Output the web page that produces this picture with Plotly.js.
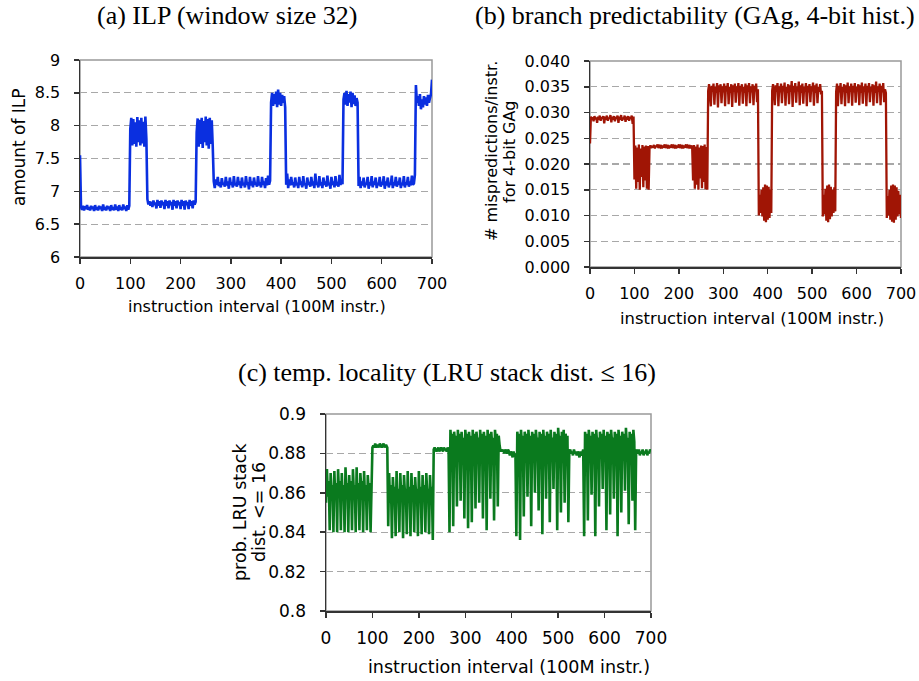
<!DOCTYPE html>
<html>
<head>
<meta charset="utf-8">
<script src="https://cdn.plot.ly/plotly-3.0.1.min.js"></script>
<style>html,body{margin:0;padding:0;background:#fff;}#chart{width:919px;height:681px;}</style>
</head>
<body>
<div id="chart"></div>
<script>
// instruction interval positions (every 2nd interval, 0..700)
const xStep = 2;
const xCount = 351;

// (a) ILP (window size 32)
const ilp = [
7.55,6.76,6.72,6.78,6.71,6.77,6.73,6.79,6.72,6.76,
6.71,6.78,6.73,6.77,6.70,6.79,6.72,6.76,6.71,6.78,
6.73,6.77,6.70,6.80,6.72,6.76,6.71,6.78,6.73,6.77,
6.70,6.79,6.72,6.76,6.71,6.80,6.72,6.77,6.70,6.79,
6.72,6.76,6.71,6.80,6.73,6.77,6.70,6.79,6.72,6.78,
7.95,8.12,7.70,8.10,7.72,8.05,7.68,8.13,7.75,8.08,
7.70,8.12,7.73,8.06,7.68,8.14,7.80,6.88,6.80,6.85,
6.78,6.84,6.76,6.86,6.79,6.83,6.74,6.87,6.78,6.85,
6.75,6.86,6.79,6.84,6.73,6.87,6.78,6.85,6.74,6.86,
6.79,6.84,6.72,6.87,6.78,6.85,6.74,6.86,6.79,6.84,
6.73,6.87,6.78,6.85,6.72,6.86,6.79,6.84,6.73,6.87,
6.78,6.85,6.74,6.86,6.80,6.84,7.90,8.11,7.68,8.09,
7.72,8.12,7.66,8.07,7.75,8.14,7.70,8.10,7.65,8.12,
7.72,8.08,7.68,7.15,7.05,7.18,7.10,7.22,7.08,7.14,
7.06,7.20,7.10,7.13,7.07,7.22,7.09,7.15,7.04,7.21,
7.10,7.14,7.06,7.23,7.09,7.12,7.07,7.22,7.10,7.15,
7.05,7.21,7.09,7.13,7.06,7.23,7.10,7.14,7.03,7.22,
7.09,7.15,7.06,7.21,7.10,7.13,7.07,7.23,7.09,7.14,
7.06,7.22,7.10,7.15,7.05,7.20,7.09,7.24,7.10,7.16,
8.35,8.50,8.30,8.48,8.33,8.52,8.28,8.55,8.32,8.50,
8.30,8.47,8.35,8.45,8.28,7.10,7.27,7.05,7.18,7.09,
7.22,7.10,7.14,7.06,7.21,7.09,7.13,7.05,7.22,7.10,
7.15,7.06,7.23,7.09,7.12,7.04,7.21,7.10,7.14,7.07,
7.22,7.09,7.15,7.05,7.27,7.10,7.13,7.06,7.23,7.09,
7.14,7.05,7.21,7.10,7.15,7.07,7.24,7.09,7.13,7.04,
7.22,7.10,7.15,7.06,7.23,7.09,7.14,7.07,7.25,7.10,
7.15,7.11,8.40,8.50,8.32,8.53,8.30,8.48,8.35,8.52,
8.28,8.50,8.33,8.46,8.30,8.42,8.35,7.08,7.22,7.05,
7.15,7.09,7.21,7.06,7.13,7.10,7.22,7.04,7.14,7.09,
7.23,7.06,7.15,7.10,7.21,7.05,7.13,7.09,7.22,7.07,
7.14,7.10,7.23,7.04,7.15,7.09,7.21,7.06,7.13,7.10,
7.24,7.05,7.14,7.09,7.22,7.07,7.15,7.10,7.21,7.05,
7.13,7.09,7.23,7.06,7.14,7.10,7.22,7.07,7.15,7.09,
7.24,7.10,7.12,7.25,8.62,8.35,8.45,8.30,8.48,8.25,
8.40,8.28,8.45,8.32,8.43,8.30,8.47,8.35,8.42,8.48,
8.70];

// (b) branch mispredictions per instruction (GAg, 4-bit history)
const mispred = [
0.0240,0.0292,0.0286,0.0291,0.0283,0.0293,0.0287,0.0290,0.0280,0.0292,
0.0286,0.0294,0.0284,0.0291,0.0288,0.0293,0.0279,0.0292,0.0286,0.0294,
0.0284,0.0290,0.0288,0.0295,0.0281,0.0292,0.0286,0.0293,0.0283,0.0291,
0.0288,0.0294,0.0280,0.0292,0.0286,0.0295,0.0284,0.0290,0.0287,0.0294,
0.0282,0.0292,0.0286,0.0293,0.0284,0.0291,0.0288,0.0294,0.0278,0.0292,
0.0170,0.0236,0.0152,0.0232,0.0165,0.0238,0.0150,0.0230,0.0175,0.0237,
0.0155,0.0234,0.0168,0.0236,0.0152,0.0235,0.0150,0.0232,0.0236,0.0231,
0.0235,0.0232,0.0237,0.0230,0.0236,0.0233,0.0238,0.0231,0.0235,0.0233,
0.0237,0.0230,0.0236,0.0232,0.0238,0.0231,0.0235,0.0233,0.0237,0.0230,
0.0236,0.0232,0.0238,0.0231,0.0235,0.0233,0.0237,0.0230,0.0236,0.0232,
0.0238,0.0231,0.0235,0.0233,0.0237,0.0230,0.0236,0.0232,0.0238,0.0231,
0.0235,0.0233,0.0237,0.0230,0.0236,0.0232,0.0168,0.0237,0.0152,0.0234,
0.0160,0.0238,0.0150,0.0232,0.0172,0.0236,0.0153,0.0235,0.0165,0.0238,
0.0151,0.0233,0.0150,0.0342,0.0355,0.0338,0.0312,0.0352,0.0340,0.0356,
0.0315,0.0350,0.0338,0.0357,0.0310,0.0353,0.0340,0.0355,0.0318,0.0351,
0.0339,0.0356,0.0312,0.0352,0.0341,0.0357,0.0316,0.0350,0.0338,0.0355,
0.0311,0.0353,0.0340,0.0356,0.0319,0.0351,0.0339,0.0357,0.0313,0.0352,
0.0341,0.0355,0.0317,0.0350,0.0338,0.0356,0.0312,0.0353,0.0340,0.0357,
0.0318,0.0351,0.0339,0.0355,0.0314,0.0352,0.0341,0.0356,0.0320,0.0345,
0.0100,0.0140,0.0105,0.0150,0.0098,0.0155,0.0090,0.0160,0.0087,0.0158,
0.0092,0.0156,0.0095,0.0150,0.0105,0.0342,0.0355,0.0338,0.0314,0.0353,
0.0340,0.0357,0.0312,0.0351,0.0339,0.0356,0.0318,0.0352,0.0341,0.0358,
0.0313,0.0350,0.0338,0.0355,0.0316,0.0353,0.0340,0.0361,0.0311,0.0352,
0.0339,0.0357,0.0319,0.0351,0.0341,0.0360,0.0314,0.0353,0.0338,0.0356,
0.0317,0.0350,0.0340,0.0357,0.0312,0.0352,0.0339,0.0355,0.0320,0.0351,
0.0341,0.0358,0.0313,0.0353,0.0338,0.0356,0.0318,0.0350,0.0340,0.0355,
0.0335,0.0342,0.0098,0.0140,0.0102,0.0152,0.0090,0.0158,0.0087,0.0160,
0.0093,0.0156,0.0098,0.0150,0.0105,0.0155,0.0108,0.0340,0.0356,0.0312,
0.0352,0.0339,0.0357,0.0316,0.0350,0.0341,0.0355,0.0312,0.0353,0.0338,
0.0358,0.0318,0.0351,0.0340,0.0356,0.0313,0.0352,0.0339,0.0357,0.0319,
0.0350,0.0341,0.0355,0.0314,0.0353,0.0338,0.0358,0.0317,0.0351,0.0340,
0.0356,0.0312,0.0352,0.0339,0.0357,0.0320,0.0350,0.0341,0.0355,0.0313,
0.0353,0.0338,0.0360,0.0318,0.0351,0.0340,0.0356,0.0314,0.0352,0.0339,
0.0357,0.0320,0.0345,0.0338,0.0095,0.0138,0.0100,0.0150,0.0092,0.0158,
0.0088,0.0160,0.0086,0.0158,0.0092,0.0155,0.0098,0.0148,0.0102,0.0140,
0.0095];

// (c) probability LRU stack distance <= 16
const lruProb = [
0.855,0.872,0.858,0.866,0.841,0.870,0.861,0.864,0.840,0.871,
0.857,0.865,0.840,0.872,0.860,0.866,0.841,0.870,0.856,0.864,
0.840,0.873,0.861,0.865,0.840,0.869,0.858,0.866,0.841,0.872,
0.860,0.864,0.840,0.873,0.857,0.865,0.841,0.870,0.862,0.866,
0.840,0.871,0.858,0.864,0.841,0.869,0.861,0.865,0.840,0.864,
0.883,0.884,0.883,0.885,0.883,0.884,0.884,0.883,0.885,0.884,
0.883,0.884,0.885,0.883,0.884,0.884,0.883,0.843,0.870,0.855,
0.864,0.837,0.868,0.859,0.863,0.838,0.871,0.856,0.862,0.840,
0.870,0.858,0.864,0.837,0.869,0.860,0.862,0.839,0.871,0.855,
0.863,0.838,0.870,0.857,0.864,0.840,0.868,0.859,0.862,0.838,
0.871,0.856,0.863,0.839,0.869,0.858,0.864,0.840,0.870,0.860,
0.862,0.839,0.869,0.857,0.863,0.836,0.882,0.883,0.882,0.881,
0.882,0.883,0.881,0.882,0.883,0.882,0.881,0.883,0.882,0.882,
0.881,0.883,0.882,0.840,0.892,0.885,0.890,0.843,0.891,0.886,
0.889,0.853,0.892,0.884,0.890,0.856,0.891,0.885,0.888,0.847,
0.892,0.886,0.890,0.842,0.891,0.884,0.889,0.845,0.892,0.885,
0.890,0.852,0.891,0.886,0.888,0.855,0.892,0.884,0.890,0.847,
0.891,0.885,0.889,0.841,0.892,0.886,0.890,0.857,0.891,0.884,
0.888,0.846,0.892,0.885,0.890,0.853,0.889,0.884,0.881,0.882,
0.881,0.882,0.880,0.882,0.881,0.880,0.882,0.881,0.879,0.881,
0.880,0.878,0.881,0.879,0.880,0.838,0.891,0.886,0.890,0.836,
0.892,0.885,0.889,0.848,0.891,0.886,0.890,0.858,0.892,0.884,
0.889,0.843,0.891,0.885,0.890,0.860,0.892,0.886,0.888,0.851,
0.891,0.884,0.890,0.839,0.892,0.885,0.889,0.857,0.891,0.886,
0.890,0.845,0.892,0.884,0.888,0.862,0.891,0.885,0.890,0.841,
0.893,0.886,0.889,0.850,0.891,0.884,0.892,0.855,0.890,0.885,
0.889,0.845,0.881,0.882,0.880,0.881,0.879,0.882,0.880,0.881,
0.879,0.881,0.880,0.878,0.881,0.879,0.880,0.882,0.838,0.891,
0.885,0.890,0.846,0.892,0.886,0.889,0.859,0.891,0.884,0.890,
0.838,0.892,0.885,0.888,0.853,0.891,0.886,0.890,0.862,0.892,
0.884,0.889,0.841,0.891,0.885,0.890,0.849,0.892,0.886,0.888,
0.857,0.891,0.884,0.890,0.838,0.892,0.885,0.889,0.850,0.891,
0.886,0.890,0.861,0.893,0.884,0.888,0.844,0.891,0.885,0.890,
0.856,0.892,0.886,0.841,0.882,0.881,0.880,0.882,0.879,0.881,
0.880,0.882,0.879,0.881,0.880,0.882,0.879,0.881,0.880,0.882,
0.881];

const xTicks = [0,100,200,300,400,500,600,700];
const xTickText = ['0','100','200','300','400','500','600','700'];

const intervals = [];
for (let i = 0; i < xCount; i++) intervals.push(i * xStep);

const W = 919, H = 681;
const px = v => v / W;
const py = v => 1 - v / H;

const sans = 'DejaVu Sans, Verdana, sans-serif';
const titleFont = {family: 'Liberation Serif, serif', size: 26, color: '#000'};

function xAx(l, r, anchor, fs) {
  return {domain: [px(l), px(r)], anchor: anchor, range: [0, 700], tickvals: xTicks, ticktext: xTickText,
    ticks: 'outside', ticklen: 5, tickwidth: 1.5, tickcolor: '#333', showline: true, linecolor: '#333', linewidth: 1.5,
    ticklabelstandoff: 6,
    showgrid: false, zeroline: false, tickfont: {family: sans, size: fs, color: '#000'}, fixedrange: true};
}
function yAx(t, b, anchor, range, dtick, fs, fmt) {
  const o = {domain: [py(b), py(t)], anchor: anchor, range: range, dtick: dtick, tick0: range[0],
    ticks: 'outside', ticklen: 5, tickwidth: 1.5, tickcolor: '#333', showline: true, linecolor: '#333', linewidth: 1.5,
    ticklabelstandoff: 10,
    showgrid: true, gridcolor: '#a8a8a8', griddash: '7px,4px', gridwidth: 1.2, zeroline: false,
    tickfont: {family: sans, size: fs, color: '#000'}, fixedrange: true};
  if (fmt) o.tickformat = fmt;
  return o;
}

const traces = [
  {x: intervals, y: ilp, xaxis: 'x', yaxis: 'y', mode: 'lines', line: {color: '#0a2fe0', width: 2.6}, hoverinfo: 'skip'},
  {x: intervals, y: mispred, xaxis: 'x2', yaxis: 'y2', mode: 'lines', line: {color: '#a01505', width: 2.3}, hoverinfo: 'skip'},
  {x: intervals, y: lruProb, xaxis: 'x3', yaxis: 'y3', mode: 'lines', line: {color: '#0a7a1e', width: 2.6}, hoverinfo: 'skip'}
];

function border(xr, yr) {
  return {type: 'rect', xref: xr + ' domain', yref: yr + ' domain', x0: 0, x1: 1, y0: 0, y1: 1,
    line: {color: '#999', width: 1.5}, layer: 'below'};
}
function ann(text, x, y, size, rot, font) {
  const a = {text: text, xref: 'paper', yref: 'paper', x: px(x), y: py(y), xanchor: 'center', yanchor: 'middle',
    showarrow: false, font: font || {family: sans, size: size, color: '#000'}};
  if (rot) a.textangle = -90;
  return a;
}

const layout = {
  width: W, height: H, margin: {l: 0, r: 0, t: 0, b: 0}, showlegend: false,
  paper_bgcolor: '#fff', plot_bgcolor: '#fff',
  xaxis: xAx(80, 432, 'y', 16),
  yaxis: yAx(60, 257, 'x', [6, 9], 0.5, 16),
  xaxis2: xAx(590, 901, 'y2', 16),
  yaxis2: yAx(61, 267, 'x2', [0, 0.04], 0.005, 16, '.3f'),
  xaxis3: xAx(326, 651, 'y3', 17),
  yaxis3: yAx(414, 611, 'x3', [0.8, 0.9], 0.02, 17),
  shapes: [border('x', 'y'), border('x2', 'y2'), border('x3', 'y3')],
  annotations: [
    ann('(a) ILP (window size 32)', 227, 16, 0, false, titleFont),
    ann('(b) branch predictability (GAg, 4-bit hist.)', 695, 16, 0, false, titleFont),
    ann('(c) temp. locality (LRU stack dist. ≤ 16)', 447, 372, 0, false, titleFont),
    ann('instruction interval (100M instr.)', 257, 307, 16),
    ann('instruction interval (100M instr.)', 752, 318, 16.4),
    ann('instruction interval (100M instr.)', 509, 667, 17.5),
    ann('amount of ILP', 19, 147, 17, true),
    ann('# mispredictions/instr.', 492, 151, 16, true),
    ann('for 4-bit GAg', 510, 151, 16, true),
    ann('prob. LRU stack', 240, 512, 17.5, true),
    ann('dist. &lt;= 16', 259, 512, 17.5, true)
  ]
};

Plotly.newPlot('chart', traces, layout, {staticPlot: true, displayModeBar: false});
</script>
</body>
</html>
